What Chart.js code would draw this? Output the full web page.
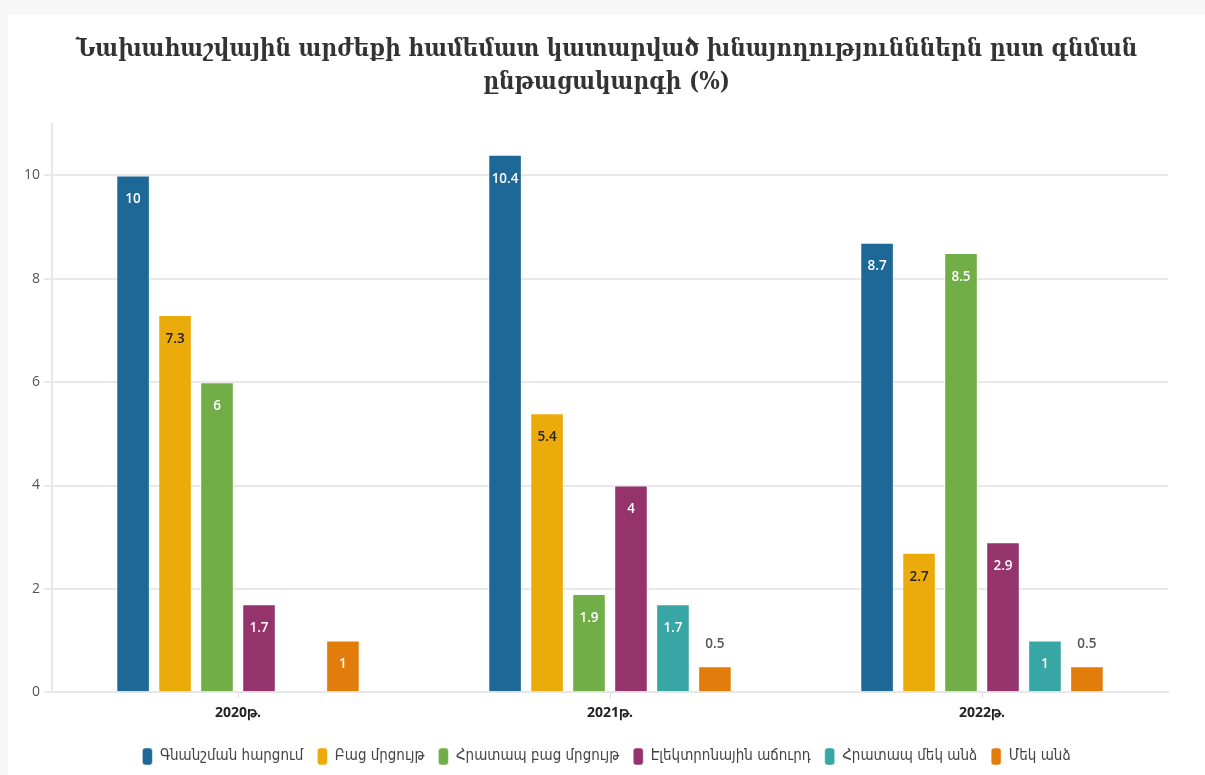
<!DOCTYPE html>
<html>
<head>
<meta charset="utf-8">
<script src="https://cdn.jsdelivr.net/npm/chart.js@4/dist/chart.umd.min.js"></script>
<style>
body{margin:0;background:#f7f7f7;}
#wrap{position:absolute;left:8px;top:15px;width:1197px;height:760px;background:#fff;}
</style>
</head>
<body>
<div id="wrap"><canvas id="c"></canvas></div>
<script>
// data
const years=["2020թ.","2021թ.","2022թ."];
const seriesNames=["Գնանշման հարցում","Բաց մրցույթ","Հրատապ բաց մրցույթ","Էլեկտրոնային աճուրդ","Հրատապ մեկ անձ","Մեկ անձ"];
const colors=["#1d6896","#ebab0b","#72ae48","#94336c","#38a6a5","#e27c0b"];
const gnanshum=[10,10.4,8.7];
const bacMrcuyt=[7.3,5.4,2.7];
const hratapBac=[6,1.9,8.5];
const elektronayin=[1.7,4,2.9];
const hratapMekAnc=[null,1.7,1];
const mekAnc=[1,0.5,0.5];
const yTicks=[0,2,4,6,8,10];

const allValues=[gnanshum,bacMrcuyt,hratapBac,elektronayin,hratapMekAnc,mekAnc];

// value labels on bars
const barLabels={
id:"barLabels",
afterDatasetsDraw(chart){
const c=chart.ctx;
c.save();
c.font="600 13.5px 'Open Sans'";
c.textAlign="center";
c.textBaseline="middle";
chart.data.datasets.forEach((ds,i)=>{
const meta=chart.getDatasetMeta(i);
meta.data.forEach((bar,j)=>{
const v=ds.data[j];
if(v===null||v===undefined)return;
let y;
if(v<0.8){
c.fillStyle="#555";
y=bar.y-22;
}else{
c.fillStyle=i===1?"#222":"#fff";
y=bar.y+24;
}
c.fillText(String(v),bar.x,y);
});
});
c.restore();
}
};

new Chart(document.getElementById("c"),{
type:"bar",
data:{
labels:years,
datasets:seriesNames.map((n,i)=>({
label:n,
data:allValues[i],
backgroundColor:colors[i],
borderColor:"rgba(255,255,255,0.45)",
borderWidth:1,
categoryPercentage:0.677,
barPercentage:0.8
}))
},
options:{
responsive:true,
maintainAspectRatio:false,
animation:false,
layout:{padding:{left:0,right:0,top:0,bottom:0}},
plugins:{
title:{
display:true,
text:["Նախահաշվային արժեքի համեմատ կատարված խնայողությունններն ըստ գնման","ընթացակարգի (%)"],
font:{family:"'DejaVu Serif Condensed'",size:24,weight:"bold",lineHeight:1.35},
color:"#333",
padding:{top:19,bottom:25}
},
legend:{
position:"bottom",
labels:{
font:{family:"'DejaVu Sans Condensed'",size:15},
color:"#444",
boxWidth:10,
boxHeight:17,
useBorderRadius:true,
borderRadius:3,
padding:14
}
},
tooltip:{enabled:false}
},
scales:{
x:{
grid:{display:true,drawOnChartArea:false,offset:false,color:"#ddd",tickLength:6},
border:{color:"#e6e6e6",width:2},
ticks:{font:{family:"'Open Sans'",size:14,weight:"bold"},color:"#222",padding:6},
afterFit(s){s.height+=7;}
},
y:{
min:0,
max:11,
afterBuildTicks(s){s.ticks=yTicks.map(v=>({value:v}));},
afterFit(s){s.width=44;},
grid:{color:"#e8e8e8",lineWidth:2,tickLength:8},
border:{display:true,color:"#e8e8e8",width:2},
ticks:{font:{family:"'Open Sans'",size:14},color:"#555",padding:4}
},
yRight:{
position:"right",
min:0,
max:11,
grid:{display:false},
border:{display:false},
ticks:{display:false},
afterFit(s){s.width=37;}
}
}
},
plugins:[barLabels]
});
</script>
</body>
</html>
